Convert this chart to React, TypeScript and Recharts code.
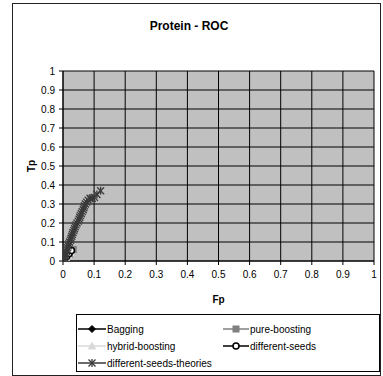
import React from 'react';
import { ScatterChart, Scatter, XAxis, YAxis, CartesianGrid, Legend, Label } from 'recharts';

const fpTicks = [0, 0.1, 0.2, 0.3, 0.4, 0.5, 0.6, 0.7, 0.8, 0.9, 1];
const tpTicks = [0, 0.1, 0.2, 0.3, 0.4, 0.5, 0.6, 0.7, 0.8, 0.9, 1];

const bagging = [
  { fp: 0, tp: 0 }, { fp: 0.003, tp: 0.006 }, { fp: 0.006, tp: 0.012 },
  { fp: 0.01, tp: 0.02 }, { fp: 0.014, tp: 0.03 }, { fp: 0.019, tp: 0.04 },
];
const pureBoosting = [
  { fp: 0, tp: 0 }, { fp: 0.005, tp: 0.01 }, { fp: 0.011, tp: 0.02 },
  { fp: 0.02, tp: 0.035 }, { fp: 0.033, tp: 0.06 },
];
const hybridBoosting = [
  { fp: 0, tp: 0 }, { fp: 0.004, tp: 0.008 }, { fp: 0.01, tp: 0.018 },
  { fp: 0.017, tp: 0.03 }, { fp: 0.024, tp: 0.045 },
];
const differentSeeds = [
  { fp: 0, tp: 0 }, { fp: 0.005, tp: 0.01 }, { fp: 0.012, tp: 0.025 },
  { fp: 0.02, tp: 0.04 }, { fp: 0.027, tp: 0.055 },
];
const differentSeedsTheories = [
  { fp: 0, tp: 0 }, { fp: 0.003, tp: 0.01 }, { fp: 0.005, tp: 0.02 },
  { fp: 0.007, tp: 0.03 }, { fp: 0.009, tp: 0.04 }, { fp: 0.011, tp: 0.05 },
  { fp: 0.013, tp: 0.06 }, { fp: 0.015, tp: 0.07 }, { fp: 0.017, tp: 0.08 },
  { fp: 0.019, tp: 0.09 }, { fp: 0.021, tp: 0.1 }, { fp: 0.024, tp: 0.11 },
  { fp: 0.026, tp: 0.12 }, { fp: 0.028, tp: 0.13 }, { fp: 0.03, tp: 0.14 },
  { fp: 0.032, tp: 0.15 }, { fp: 0.035, tp: 0.16 }, { fp: 0.037, tp: 0.17 },
  { fp: 0.039, tp: 0.18 }, { fp: 0.042, tp: 0.19 }, { fp: 0.045, tp: 0.2 },
  { fp: 0.049, tp: 0.21 }, { fp: 0.052, tp: 0.22 }, { fp: 0.054, tp: 0.23 },
  { fp: 0.056, tp: 0.24 }, { fp: 0.059, tp: 0.25 }, { fp: 0.062, tp: 0.26 },
  { fp: 0.065, tp: 0.27 }, { fp: 0.067, tp: 0.28 }, { fp: 0.069, tp: 0.29 },
  { fp: 0.072, tp: 0.3 }, { fp: 0.076, tp: 0.31 }, { fp: 0.081, tp: 0.32 },
  { fp: 0.087, tp: 0.33 }, { fp: 0.094, tp: 0.33 }, { fp: 0.101, tp: 0.335 },
  { fp: 0.109, tp: 0.35 }, { fp: 0.121, tp: 0.37 },
];

const FONT = '"Liberation Sans", Arial, sans-serif';

const Diamond = (color: string) => (p: any) => {
  const { cx, cy } = p;
  if (cx == null || cy == null) return <g />;
  return <path d={`M${cx},${cy - 3.5}L${cx + 3.5},${cy}L${cx},${cy + 3.5}L${cx - 3.5},${cy}Z`} fill={color} stroke={color} />;
};
const Square = (color: string) => (p: any) => {
  const { cx, cy } = p;
  if (cx == null || cy == null) return <g />;
  return <rect x={cx - 3} y={cy - 3} width={6} height={6} fill={color} stroke={color} />;
};
const Triangle = (color: string) => (p: any) => {
  const { cx, cy } = p;
  if (cx == null || cy == null) return <g />;
  return <path d={`M${cx},${cy - 3.5}L${cx + 3.5},${cy + 3}L${cx - 3.5},${cy + 3}Z`} fill={color} stroke={color} />;
};
const Circle = (color: string) => (p: any) => {
  const { cx, cy } = p;
  if (cx == null || cy == null) return <g />;
  return <circle cx={cx} cy={cy} r={3} fill="#fff" stroke={color} strokeWidth={1.5} />;
};
const Asterisk = (color: string) => (p: any) => {
  const { cx, cy } = p;
  if (cx == null || cy == null) return <g />;
  return (
    <g stroke={color} strokeWidth={1.3}>
      <line x1={cx - 3.5} y1={cy - 3.5} x2={cx + 3.5} y2={cy + 3.5} />
      <line x1={cx - 3.5} y1={cy + 3.5} x2={cx + 3.5} y2={cy - 3.5} />
      <line x1={cx} y1={cy - 4} x2={cx} y2={cy + 4} />
    </g>
  );
};

const series = [
  { name: 'Bagging', data: bagging, color: '#000000', shape: Diamond },
  { name: 'pure-boosting', data: pureBoosting, color: '#808080', shape: Square },
  { name: 'hybrid-boosting', data: hybridBoosting, color: '#d8d8d8', shape: Triangle },
  { name: 'different-seeds', data: differentSeeds, color: '#000000', shape: Circle },
  { name: 'different-seeds-theories', data: differentSeedsTheories, color: '#3a3a3a', shape: Asterisk },
];

const LegendContent = () => (
  <div
    style={{
      border: '1px solid #000',
      boxSizing: 'border-box',
      width: 304,
      height: 58,
      background: '#fff',
      fontFamily: FONT,
      fontSize: 10,
      color: '#000',
      position: 'relative',
    }}
  >
    {series.map((s, i) => {
      const col = i % 2;
      const row = Math.floor(i / 2);
      const left = col === 0 ? 1 : 146;
      const top = 7 + row * 17;
      const w = col === 0 ? 28 : 26;
      const M = s.shape(s.color);
      return (
        <div key={s.name} style={{ position: 'absolute', left, top, height: 14, display: 'flex', alignItems: 'center', whiteSpace: 'nowrap' }}>
          <svg width={w} height={14} style={{ display: 'block' }}>
            <line x1={0} y1={7} x2={w} y2={7} stroke={s.color} strokeWidth={1.5} />
            {M({ cx: w / 2, cy: 7 })}
          </svg>
          <span style={{ marginLeft: 1 }}>{s.name}</span>
        </div>
      );
    })}
  </div>
);

export default function App() {
  return (
    <div style={{ position: 'absolute', left: 0, top: 0, width: 383, height: 376, background: '#fff', fontFamily: FONT }}>
      <div style={{ position: 'absolute', left: 12, top: 3, width: 369, height: 373, border: '1px solid #222', boxSizing: 'border-box' }} />
      <div style={{ position: 'absolute', left: 12, top: 19, width: 381 - 12 - 15, textAlign: 'center', fontWeight: 'bold', fontSize: 12, fontFamily: FONT, color: '#000' }}>
        Protein - ROC
      </div>
      <div style={{ position: 'absolute', left: 0, top: 0 }}>
        <ScatterChart width={383} height={376} margin={{ top: 71, right: 9, left: 23, bottom: 85 }}>
          <CartesianGrid stroke="#000" strokeWidth={1} fill="#c0c0c0" fillOpacity={1} />
          <XAxis
            type="number"
            dataKey="fp"
            domain={[0, 1]}
            ticks={fpTicks}
            interval={0}
            height={30}
            axisLine={{ stroke: '#000' }}
            tickLine={{ stroke: '#000' }}
            tickSize={4}
            tickMargin={6}
            tick={{ fill: '#000', fontSize: 10, fontFamily: FONT }}
            allowDataOverflow
          >
            <Label
              content={(props: any) => {
                const vb = props.viewBox;
                return (
                  <text x={vb.x + vb.width / 2} y={vb.y + 42} textAnchor="middle" fontWeight="bold" fontSize={10} fontFamily={FONT} fill="#000">
                    Fp
                  </text>
                );
              }}
            />
          </XAxis>
          <YAxis
            type="number"
            dataKey="tp"
            domain={[0, 1]}
            ticks={tpTicks}
            interval={0}
            width={40}
            axisLine={{ stroke: '#000' }}
            tickLine={{ stroke: '#000' }}
            tickSize={4}
            tickMargin={4}
            tick={{ fill: '#000', fontSize: 10, fontFamily: FONT }}
            allowDataOverflow
          >
            <Label
              content={(props: any) => {
                const vb = props.viewBox;
                const x = vb.x + 12;
                const y = vb.y + vb.height / 2;
                return (
                  <text x={x} y={y} transform={`rotate(-90 ${x} ${y})`} textAnchor="middle" fontWeight="bold" fontSize={10} fontFamily={FONT} fill="#000">
                    Tp
                  </text>
                );
              }}
            />
          </YAxis>
          <Legend
            layout="vertical"
            align="center"
            verticalAlign="middle"
            content={<LegendContent />}
            wrapperStyle={{ position: 'absolute', left: 76, top: 314, width: 304, height: 58 }}
          />
          {series.map((s) => (
            <Scatter
              key={s.name}
              name={s.name}
              data={s.data}
              fill={s.color}
              line={{ stroke: s.color, strokeWidth: 1.5 }}
              lineType="joint"
              shape={s.shape(s.color)}
              isAnimationActive={false}
            />
          ))}
        </ScatterChart>
      </div>
    </div>
  );
}
